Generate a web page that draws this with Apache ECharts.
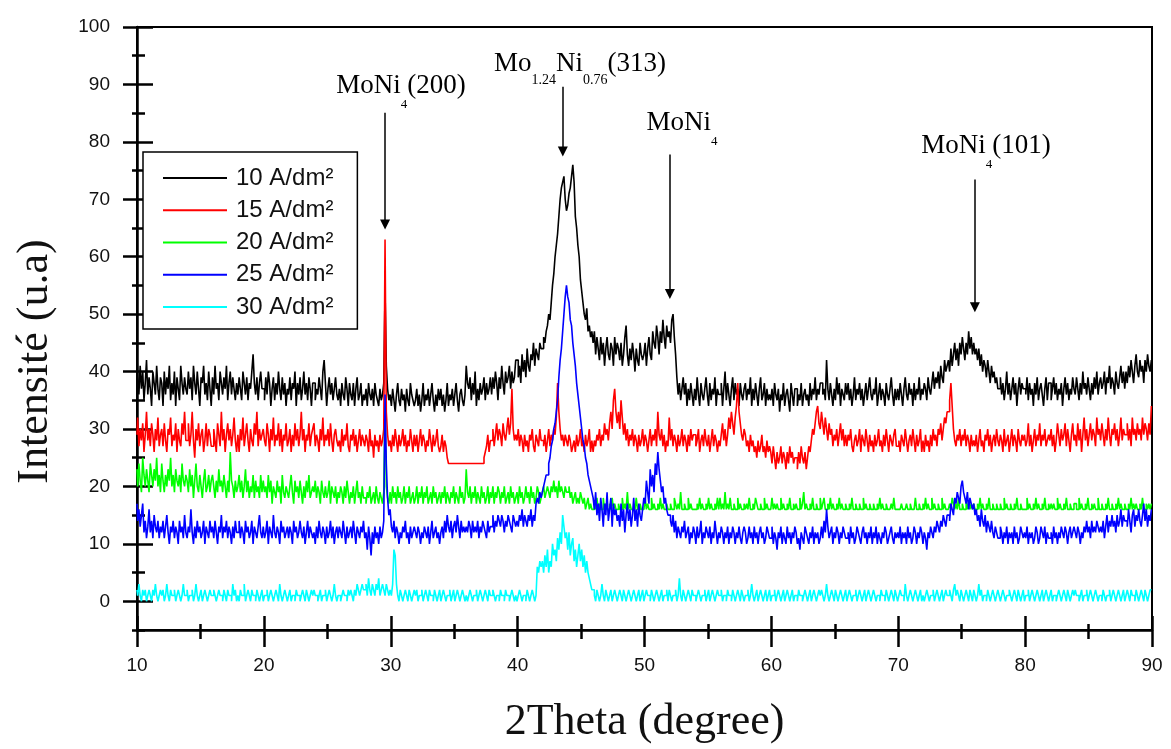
<!DOCTYPE html>
<html><head><meta charset="utf-8">
<script src="https://cdn.jsdelivr.net/npm/echarts@6/dist/echarts.min.js"></script>
<style>html,body{margin:0;padding:0;background:#fff}#c{width:1171px;height:749px}</style>
</head><body><div id="c"></div>
<script>
// 2θ sampling grid: start and step (degrees)
const thetaStart = 10, thetaStep = 0.1;
const seriesNames = ['10 A/dm²', '15 A/dm²', '20 A/dm²', '25 A/dm²', '30 A/dm²'];
const seriesColors = ['#000000', '#ff0000', '#00ff00', '#0000ff', '#00ffff'];
const xTicks = [10, 20, 30, 40, 50, 60, 70, 80, 90];
const yTicks = [0, 10, 20, 30, 40, 50, 60, 70, 80, 90, 100];

const i10 = [
43,39,36,41,37,40,35,38,42,36,39,37,34,40,38,36,41,37,35,39,
38,34,40,36,39,37,41,35,38,36,40,34,39,37,35,41,38,36,39,37,
36,40,37,39,35,41,38,36,40,37,34,39,38,41,36,38,35,40,37,34,
39,36,41,37,38,35,40,38,36,39,37,41,35,38,40,36,39,37,35,38,
36,39,37,35,40,38,36,39,35,38,37,40,43,38,36,39,35,38,40,37,
37,35,39,36,40,38,34,37,39,35,38,36,40,37,35,39,36,38,34,37,
36,39,35,38,37,40,34,38,36,39,35,37,40,36,38,35,39,37,34,38,
38,35,37,36,39,37,35,40,42,38,34,37,39,36,38,35,37,39,36,35,
37,34,38,36,35,39,37,34,38,36,35,38,34,37,39,35,36,38,34,36,
35,37,34,38,36,35,37,34,38,36,35,34,37,35,36,38,54,41,37,35,
36,34,37,35,33,36,38,35,34,37,35,36,33,37,35,34,38,36,35,34,
35,37,34,36,33,35,38,34,36,35,37,34,36,38,35,33,36,34,37,35,
37,34,36,33,35,38,34,36,35,37,34,36,38,35,33,36,37,35,34,36,
41,38,37,39,35,38,36,40,34,37,35,38,36,37,39,35,38,36,37,39,
36,39,37,40,38,35,39,37,41,38,36,40,38,39,41,37,40,38,39,42,
42,39,41,38,43,40,42,39,44,41,40,43,42,45,41,44,43,42,45,44,
44,46,45,47,48,50,49,52,55,57,60,62,64,67,70,72,73,74,70,68,
69,71,72,74,76,73,67,65,62,60,56,54,52,50,49,51,47,48,46,47,
45,47,43,46,44,42,46,43,45,41,44,46,43,42,45,44,41,46,43,45,
44,42,45,41,43,46,48,43,41,44,42,45,43,40,44,42,41,45,43,42,
43,45,41,44,46,43,42,47,45,44,48,46,43,47,45,49,46,44,48,46,
47,45,49,50,46,43,39,36,38,35,37,39,36,38,34,37,35,38,36,34,
37,35,39,36,34,38,36,35,37,39,36,34,38,35,37,36,39,34,37,36,
36,38,34,37,40,35,38,36,34,37,39,35,38,36,37,34,38,36,35,37,
38,35,37,36,39,34,37,35,38,36,34,37,39,35,36,38,34,37,35,36,
35,37,34,38,36,35,37,33,36,35,38,34,36,37,35,33,38,36,34,37,
37,34,36,35,38,34,36,37,35,36,34,38,35,37,36,39,35,37,36,38,
38,36,37,35,42,37,35,38,36,34,37,35,39,36,38,34,37,36,35,38,
36,38,35,37,34,36,39,35,37,36,38,35,37,34,36,38,35,37,39,36,
35,37,36,39,34,36,38,35,37,36,34,38,36,35,37,39,36,34,37,35,
37,35,38,36,34,37,39,36,35,38,36,37,34,38,35,37,36,39,35,37,
36,38,37,35,39,37,36,38,40,37,39,38,40,37,41,39,38,42,40,41,
42,40,44,41,43,45,42,44,41,45,43,46,44,42,45,43,47,44,46,43,
45,43,44,42,44,41,43,40,42,41,39,42,40,38,41,39,40,38,39,37,
37,39,36,38,35,37,40,36,38,35,37,39,36,38,34,37,39,36,38,37,
37,36,39,35,38,36,37,34,38,36,39,35,37,38,36,34,37,39,35,38,
38,35,37,39,36,38,35,37,36,38,34,37,39,36,38,35,37,36,39,37,
36,39,37,35,38,36,40,37,38,36,39,37,35,38,36,39,37,40,36,38,
39,37,38,40,36,39,38,41,37,39,38,36,40,38,37,39,41,38,40,37,
40,38,41,39,42,40,38,41,43,40,39,42,40,41,38,42,40,43,41,40,
42];

const i15 = [
29,32,27,30,28,31,26,29,33,28,30,27,31,29,26,30,28,32,27,29,
30,27,31,28,26,30,29,32,27,29,28,31,26,30,28,27,31,29,33,28,
28,31,27,29,33,28,25,30,28,31,27,29,30,26,28,31,27,30,29,27,
27,30,28,26,31,29,27,33,28,30,26,29,31,28,30,27,29,32,28,26,
29,26,30,28,32,27,29,31,28,26,30,28,27,31,29,33,27,30,28,29,
30,28,27,31,29,26,30,28,32,27,29,28,31,27,30,26,29,28,31,27,
28,30,26,29,27,31,28,30,27,29,33,28,30,26,29,28,31,27,29,30,
31,27,29,28,26,30,28,32,27,29,28,30,27,31,28,26,29,30,28,27,
28,26,30,27,29,28,31,27,26,29,28,30,27,29,26,28,30,27,29,28,
27,29,28,26,30,27,28,25,29,27,28,26,29,27,28,30,63,33,29,27,
28,26,29,27,30,28,26,29,27,28,30,27,29,26,28,27,30,28,26,29,
27,29,26,28,30,27,29,28,26,28,27,30,28,26,29,27,28,30,27,26,
27,29,26,28,27,25,24,24,24,24,24,24,24,24,24,24,24,24,24,24,
24,24,24,24,24,24,24,24,24,24,24,24,24,24,25,26,27,29,26,28,
28,30,27,29,31,28,30,29,27,31,29,28,30,32,29,31,37,30,28,29,
28,30,27,29,28,26,29,27,28,26,29,28,30,27,26,29,28,27,30,28,
28,27,29,26,28,30,27,29,28,30,29,32,38,33,30,28,29,27,29,28,
27,29,28,26,27,28,26,29,27,28,30,27,28,26,29,27,28,30,26,28,
26,28,27,29,28,30,27,29,28,31,29,30,28,31,33,30,35,37,33,31,
33,30,35,32,29,31,28,30,27,29,28,30,27,29,28,26,29,27,28,30,
27,29,28,26,28,30,27,29,28,30,27,33,29,28,30,27,29,26,28,27,
32,28,30,27,29,28,26,29,27,28,30,27,29,28,26,29,27,30,28,29,
29,27,28,30,26,28,29,27,30,28,27,29,26,28,30,27,29,28,26,28,
27,29,31,28,30,27,29,32,30,33,31,29,32,34,38,33,31,29,28,30,
29,27,28,26,29,27,28,26,27,25,28,26,27,29,26,27,25,28,26,27,
26,24,27,25,23,26,24,25,27,24,26,25,23,26,24,27,25,26,24,25,
25,23,26,24,27,25,24,26,23,25,27,26,28,30,29,31,33,34,31,30,
33,31,29,32,30,28,31,29,30,27,29,28,30,27,29,31,28,30,27,29,
27,29,28,30,27,26,28,29,27,28,30,26,29,28,27,30,28,26,29,27,
28,26,29,27,28,30,27,28,26,29,27,30,28,26,29,28,27,29,30,27,
27,28,26,29,28,27,30,28,26,28,29,27,30,28,26,29,27,28,30,26,
28,26,29,27,28,26,29,27,30,28,29,27,30,29,31,28,30,32,31,33,
33,35,38,34,30,28,27,29,28,30,27,29,28,30,27,29,28,26,29,27,
28,27,29,26,28,30,27,28,26,29,28,30,27,29,26,28,29,27,30,28,
27,29,28,26,30,27,28,29,26,28,30,27,29,28,26,30,28,27,29,28,
29,27,28,31,27,29,26,28,30,27,29,28,31,27,29,28,30,27,28,29,
28,30,27,29,26,28,31,29,27,30,28,29,31,27,30,28,26,29,31,28,
29,27,31,28,30,26,29,32,28,30,27,29,31,28,30,29,27,32,29,30,
28,31,29,27,30,28,32,29,27,30,29,31,28,30,27,29,32,28,30,29,
29,31,28,30,27,32,29,30,28,31,29,30,28,32,29,31,30,28,31,29,
34];

const i20 = [
23,20,24,21,19,25,22,20,23,21,19,24,22,20,23,21,25,20,22,19,
24,21,19,22,20,23,21,25,20,22,19,23,21,20,22,19,24,21,20,22,
21,19,23,20,22,18,21,24,20,19,22,20,18,21,23,19,20,22,19,21,
22,20,18,21,19,23,20,21,19,22,20,18,21,19,26,21,20,18,21,19,
20,22,19,21,18,20,23,19,21,18,20,19,22,18,21,19,20,18,22,19,
21,19,20,18,22,19,21,17,20,19,18,21,19,20,17,22,19,18,20,19,
18,20,22,19,17,21,19,20,18,21,19,17,20,18,21,19,22,18,19,20,
19,21,18,20,19,17,21,19,18,20,18,19,21,17,20,19,18,20,17,19,
18,20,19,17,20,18,21,19,17,19,18,20,17,19,21,18,19,17,20,18,
18,17,19,18,20,17,18,19,17,20,18,17,19,18,17,19,34,20,18,17,
19,17,20,18,19,17,20,18,19,17,18,20,17,19,18,20,17,18,19,17,
18,20,17,19,18,20,17,19,18,20,17,18,19,17,20,18,19,17,18,19,
17,19,18,20,17,19,18,17,19,18,20,17,19,18,17,20,18,19,17,18,
23,19,18,20,17,19,18,20,17,19,18,17,20,18,19,17,18,20,17,19,
18,20,17,19,18,20,19,17,19,18,20,17,18,19,17,20,18,19,17,18,
19,17,20,18,19,17,18,20,18,19,17,20,18,19,17,18,20,19,17,18,
19,20,18,19,20,19,18,20,19,21,19,20,18,21,19,20,19,18,20,19,
19,20,18,19,17,18,19,17,18,17,19,18,17,18,16,17,18,16,17,16,
16,17,16,18,16,17,16,16,18,16,17,16,16,17,16,18,16,17,16,16,
17,16,16,18,16,17,16,19,16,17,16,16,17,16,18,16,16,17,16,16,
16,18,16,17,16,16,18,16,17,16,16,17,16,18,16,17,16,16,17,16,
16,17,16,16,18,17,16,17,16,19,16,16,17,16,16,18,16,17,16,16,
16,16,17,16,18,16,17,16,16,17,16,18,16,17,16,16,17,16,18,16,
18,16,17,16,19,16,17,16,18,16,16,17,16,16,18,16,17,16,16,17,
16,17,16,18,16,16,17,16,18,17,16,16,17,16,16,18,16,17,16,16,
16,18,16,17,16,17,16,16,18,16,17,16,16,17,16,18,16,16,17,16,
17,16,16,18,16,17,19,16,17,16,16,17,16,18,16,16,17,16,16,18,
16,17,18,16,16,17,16,18,16,17,16,16,17,16,18,16,17,16,16,17,
16,16,17,16,18,16,16,17,16,16,17,16,16,18,16,17,16,16,17,16,
16,17,16,16,17,16,18,16,17,16,16,17,16,16,16,17,16,18,16,16,
16,16,16,17,16,16,16,17,16,16,17,16,16,16,18,16,16,17,16,16,
17,16,18,16,17,16,16,18,16,17,16,16,17,16,16,18,16,17,16,16,
16,17,16,18,17,16,17,16,18,16,16,17,16,16,18,16,17,16,17,16,
17,16,16,17,16,18,16,17,16,16,17,16,18,16,16,17,16,16,17,16,
16,17,16,16,18,16,17,16,16,17,16,16,17,16,18,16,16,17,16,16,
16,16,18,16,17,16,16,17,16,18,16,17,16,16,17,16,18,16,16,17,
16,17,16,17,16,16,18,16,17,16,16,17,16,18,16,16,17,16,16,17,
17,16,16,18,16,17,16,16,17,16,18,16,16,17,16,17,16,16,18,16,
16,17,16,16,17,16,18,16,16,17,16,16,17,16,18,16,17,16,16,17,
16,16,17,16,18,16,17,16,17,16,16,17,16,18,16,16,17,16,17,16,
17];

const i25 = [
17,14,16,13,15,17,12,14,11,13,16,12,14,11,15,13,12,14,11,13,
12,14,11,13,15,12,10,13,12,14,11,13,12,10,14,12,13,11,15,12,
11,13,12,16,12,10,13,11,14,12,13,11,12,14,10,13,12,11,14,12,
13,11,14,12,10,13,12,15,11,13,12,14,11,13,12,10,13,11,14,12,
12,14,11,13,12,10,14,12,13,11,12,14,10,13,12,11,13,15,12,11,
13,11,12,14,10,13,12,11,15,12,11,13,12,10,14,12,13,11,12,13,
11,13,12,10,14,12,13,11,12,14,12,11,13,10,12,14,11,13,12,11,
12,10,13,11,14,12,11,13,12,10,13,11,12,14,11,13,10,12,13,11,
13,12,11,14,12,10,13,11,12,13,11,14,12,10,13,12,11,13,12,14,
11,12,9,13,11,8,12,10,13,11,12,10,13,11,12,14,36,24,18,15,
16,13,12,14,11,13,12,10,12,11,13,12,14,11,12,10,13,11,12,13,
12,11,13,12,10,12,11,13,12,11,13,10,12,14,11,12,13,11,12,10,
12,13,11,14,12,15,13,12,14,11,13,14,12,15,13,11,14,12,13,12,
13,12,14,13,11,14,12,13,12,14,11,13,12,14,13,12,11,14,12,13,
13,15,12,14,13,15,14,13,15,14,12,14,13,15,14,13,12,15,14,13,
14,13,15,14,16,13,15,14,13,15,14,16,13,15,14,17,18,17,19,18,
19,20,21,22,22,24,25,27,28,30,31,33,35,39,42,44,47,50,53,55,
53,52,49,48,45,43,41,38,36,34,32,30,28,27,25,24,22,21,20,19,
18,16,19,15,17,14,18,16,13,17,15,19,14,16,18,13,17,15,16,14,
15,13,17,14,16,12,15,17,14,16,13,15,18,14,16,13,17,15,14,16,
18,17,21,19,17,23,20,22,19,24,22,26,23,21,19,20,17,18,16,15,
15,14,13,15,12,14,11,13,12,11,13,12,14,11,12,13,10,12,11,13,
12,10,13,11,12,14,10,12,11,13,12,11,13,10,12,11,14,12,10,12,
11,13,12,10,12,11,13,10,12,11,13,12,10,12,11,13,11,10,12,13,
12,10,11,13,11,12,10,13,11,12,10,12,13,11,12,10,11,13,12,11,
11,13,10,12,11,9,12,11,13,10,12,11,10,13,11,12,10,12,11,13,
12,10,11,9,12,11,10,13,12,11,10,12,11,13,10,12,11,12,10,11,
13,11,14,12,16,13,11,12,13,10,12,11,13,12,10,12,11,13,12,11,
11,12,10,13,11,12,10,11,13,12,11,10,12,13,11,12,10,12,11,13,
10,12,11,13,10,12,11,10,12,11,13,12,10,11,12,13,11,10,12,11,
12,11,13,10,12,11,12,10,13,11,12,10,11,13,12,10,12,11,13,12,
10,12,11,9,12,11,13,12,11,13,12,14,13,12,14,13,15,14,13,15,
15,14,17,16,15,18,17,19,18,17,20,21,19,18,17,19,16,18,17,16,
17,15,16,14,15,13,16,14,13,15,12,14,13,12,14,12,11,13,12,11,
11,13,12,10,12,11,13,10,12,11,12,10,13,11,12,10,11,13,12,11,
12,11,13,10,12,11,12,10,11,13,12,10,11,13,12,11,13,10,12,11,
11,12,10,13,11,12,10,12,11,13,12,11,13,12,10,12,13,11,12,13,
12,11,13,12,10,12,11,13,12,14,12,13,11,14,12,13,12,14,13,12,
13,12,14,11,13,15,12,14,13,15,13,14,12,15,13,14,16,13,15,14,
14,13,16,14,12,15,16,13,15,14,16,14,13,15,17,14,16,13,15,14,
16];

const i30 = [
2,1,3,1,0,2,1,2,0,1,2,1,0,2,1,3,1,0,1,2,
1,2,0,1,3,1,0,2,1,1,2,0,1,2,1,0,1,3,1,1,
2,0,1,1,2,0,1,3,1,0,1,2,0,1,2,1,0,1,2,1,
1,2,1,0,1,2,1,1,0,2,1,0,2,1,1,0,3,1,2,0,
1,0,2,1,1,3,0,1,2,1,0,2,1,1,0,2,1,0,1,2,
0,1,1,2,0,1,2,1,0,1,2,1,0,3,1,0,1,2,1,0,
1,2,0,1,1,0,2,1,1,0,1,2,1,0,2,1,0,1,2,1,
2,1,1,0,1,2,0,1,1,2,0,1,2,1,0,1,3,1,0,1,
1,0,1,2,1,1,0,2,1,2,1,0,2,1,3,2,1,2,3,2,
2,3,1,4,2,1,3,2,1,3,2,4,1,2,3,2,1,3,2,1,
2,1,3,9,8,3,1,0,2,1,0,1,2,1,0,2,1,0,1,2,
1,2,0,1,1,2,0,1,2,1,0,2,1,1,0,2,1,0,1,2,
0,1,2,1,0,1,1,2,0,1,2,0,1,2,1,0,1,2,1,0,
1,0,1,2,1,0,1,1,2,0,1,2,1,0,1,2,1,0,2,1,
1,2,1,0,1,1,0,2,1,1,0,2,1,1,0,1,2,1,0,1,
0,1,2,1,0,1,1,0,2,1,0,1,2,1,0,1,6,5,7,6,
7,5,8,6,9,5,7,6,10,8,9,7,11,9,12,10,15,13,11,12,
9,12,8,10,11,7,9,6,8,10,7,9,6,8,5,7,5,4,3,2,
2,1,0,2,1,0,1,3,1,0,2,1,0,1,2,0,1,2,1,0,
1,2,1,0,2,1,0,1,2,1,0,1,2,1,0,1,2,0,1,2,
0,1,2,1,1,0,2,1,0,1,2,1,0,1,2,0,1,1,2,0,
2,1,0,1,1,2,0,1,4,1,0,2,1,0,1,2,1,0,2,1,
1,0,1,2,1,0,1,1,2,0,1,2,0,1,2,1,0,1,2,1,
1,2,0,1,1,0,2,1,1,0,2,1,0,1,2,1,0,2,1,0,
1,1,2,0,1,3,1,0,1,2,0,1,2,1,0,1,2,0,1,2,
0,1,1,2,0,1,2,1,0,1,2,0,1,2,1,0,1,2,0,1,
1,0,2,1,1,0,1,2,1,0,1,2,0,1,2,1,0,1,2,1,
2,1,0,1,3,1,0,1,2,1,0,2,1,0,1,2,1,0,1,2,
0,1,2,1,0,1,1,2,0,1,2,1,0,1,2,0,1,2,1,0,
1,2,1,0,1,1,0,2,1,1,0,2,1,0,1,2,1,0,2,1,
0,1,2,1,1,0,3,1,0,1,2,1,0,1,2,1,0,1,2,0,
1,0,1,2,1,0,1,1,2,0,1,2,1,0,1,2,0,1,2,1,
1,2,1,0,2,3,1,2,1,0,2,1,0,1,2,1,0,2,1,0,
2,1,0,1,3,1,2,0,1,1,0,2,1,0,1,2,1,0,1,2,
1,0,1,2,1,0,1,1,2,1,0,1,2,1,0,2,1,0,1,2,
0,1,1,2,0,1,2,1,0,1,2,1,0,1,2,0,1,2,1,0,
1,2,0,1,1,0,1,2,1,0,1,2,1,0,2,1,0,1,2,1,
2,1,1,0,1,2,0,1,1,2,0,1,2,1,0,1,2,1,0,1,
1,0,2,1,0,1,1,2,0,1,2,1,0,1,2,1,0,1,2,0,
1,2,1,0,2,1,1,0,2,1,0,1,2,1,0,2,1,0,1,2,
2];

const intensities = [i10, i15, i20, i25, i30];

// peak annotations: label text, label centre (2θ, intensity), arrow x and its top / tip
const peakText = ['{m|MoNi}{s|4}{m|(200)}', '{n|Mo}{t|1.24}{n|Ni}{t|0.76}{n|(313)}', '{m|MoNi}{s|4}', '{m|MoNi}{s|4}{m|(101)}'];
const peakLabelX = [30.81, 44.92, 52.96, 76.92];
const peakLabelY = [89.76, 93.58, 83.33, 79.34];
const arrowX = [29.55, 43.56, 52.0, 76.04];
const arrowTop = [85.07, 89.58, 77.78, 73.44];
const arrowTip = [65.6, 78.3, 53.5, 51.2];

const serif = 'Liberation Serif, Times New Roman, serif';
const sans = 'Liberation Sans, Arial, sans-serif';

function yAx(extra) {
  return Object.assign({
    type: 'value', min: -5, max: 100, position: 'left',
    axisLine: { show: false, onZero: false }, splitLine: { show: false },
    axisLabel: { show: false }, axisTick: { show: false }
  }, extra);
}
function xAx(extra) {
  return Object.assign({
    type: 'value', min: 10, max: 90, position: 'bottom',
    axisLine: { show: false, onZero: false }, splitLine: { show: false },
    axisLabel: { show: false }, axisTick: { show: false }
  }, extra);
}
const tickLine = { color: '#000', width: 2.5 };

const series = intensities.map((arr, k) => ({
  name: seriesNames[k], type: 'line', step: 'middle', symbol: 'none',
  xAxisIndex: 0, yAxisIndex: 0,
  lineStyle: { color: seriesColors[k], width: 1.6 },
  itemStyle: { color: seriesColors[k] },
  data: arr.map((v, i) => [thetaStart + i * thetaStep, v])
}));

series.push({
  name: 'peaks', type: 'scatter', symbolSize: 1, xAxisIndex: 0, yAxisIndex: 0, silent: true,
  itemStyle: { color: '#000', opacity: 0 },
  data: peakText.map((t, k) => ({ value: [peakLabelX[k], peakLabelY[k]], label: { formatter: t } })),
  label: {
    show: true, position: 'inside', align: 'center', verticalAlign: 'middle', color: '#000', opacity: 1,
    rich: {
      m: { fontFamily: serif, fontSize: 27, color: '#000', lineHeight: 50, verticalAlign: 'middle' },
      s: { fontFamily: serif, fontSize: 13, color: '#000', lineHeight: 50, verticalAlign: 'bottom' },
      n: { fontFamily: serif, fontSize: 27, color: '#000', lineHeight: 46, verticalAlign: 'middle' },
      t: { fontFamily: serif, fontSize: 14, color: '#000', lineHeight: 43, verticalAlign: 'bottom' }
    }
  },
  markLine: {
    silent: true, symbol: ['none', 'triangle'], symbolSize: 10,
    label: { show: false },
    itemStyle: { color: '#000' },
    lineStyle: { color: '#000', width: 1.5, type: 'solid', opacity: 1 },
    emphasis: { disabled: true },
    data: arrowX.map((x, k) => [{ coord: [x, arrowTop[k]] }, { coord: [x, arrowTip[k]] }])
  }
});

const chart = echarts.init(document.getElementById('c'), null, { renderer: 'canvas' });
chart.setOption({
  animation: false,
  backgroundColor: '#fff',
  grid: { left: 137, right: 19, top: 27, bottom: 118, show: true, borderColor: '#000', borderWidth: 2, backgroundColor: 'transparent' },
  legend: {
    data: seriesNames, orient: 'vertical', left: 143, top: 152,
    padding: [14, 24, 10, 20], itemGap: 8.25, itemWidth: 64, itemHeight: 2, icon: 'rect',
    borderColor: '#000', borderWidth: 1.5, backgroundColor: '#fff', selectedMode: false,
    textStyle: { fontFamily: sans, fontSize: 24, color: '#111', lineHeight: 24, padding: [0, 0, 0, 4] }
  },
  xAxis: [
    xAx({
      interval: 10,
      axisLine: { show: true, onZero: false, lineStyle: { color: '#000', width: 2.5 } },
      axisTick: { show: true, length: 17, lineStyle: tickLine },
      axisLabel: { show: true, margin: 26, fontFamily: sans, fontSize: 19, color: '#111' },
      name: '2Theta (degree)', nameLocation: 'middle', nameGap: 70,
      nameTextStyle: { fontFamily: serif, fontSize: 44, color: '#111' }
    }),
    xAx({ interval: 10, axisTick: { show: true, inside: true, length: 14, lineStyle: tickLine } }),
    xAx({ interval: 5, axisTick: { show: true, length: 9, lineStyle: tickLine } }),
    xAx({ interval: 5, axisTick: { show: true, inside: true, length: 6, lineStyle: tickLine } })
  ],
  yAxis: [
    yAx({
      axisLine: { show: true, onZero: false, lineStyle: { color: '#000', width: 2.5 } },
      axisTick: { show: true, customValues: yTicks, length: 14, lineStyle: tickLine },
      axisLabel: { show: true, customValues: yTicks, margin: 27, fontFamily: sans, fontSize: 19, color: '#111' },
      name: 'Intensité (u.a)', nameLocation: 'middle', nameGap: 80,
      nameTextStyle: { fontFamily: serif, fontSize: 44, color: '#111', padding: [0, 66, 0, 0] }
    }),
    yAx({ axisTick: { show: true, inside: true, customValues: yTicks, length: 16, lineStyle: tickLine } }),
    yAx({ interval: 5, axisTick: { show: true, length: 5, lineStyle: tickLine } }),
    yAx({ interval: 5, axisTick: { show: true, inside: true, length: 8, lineStyle: tickLine } })
  ],
  series: series
});
</script></body></html>
